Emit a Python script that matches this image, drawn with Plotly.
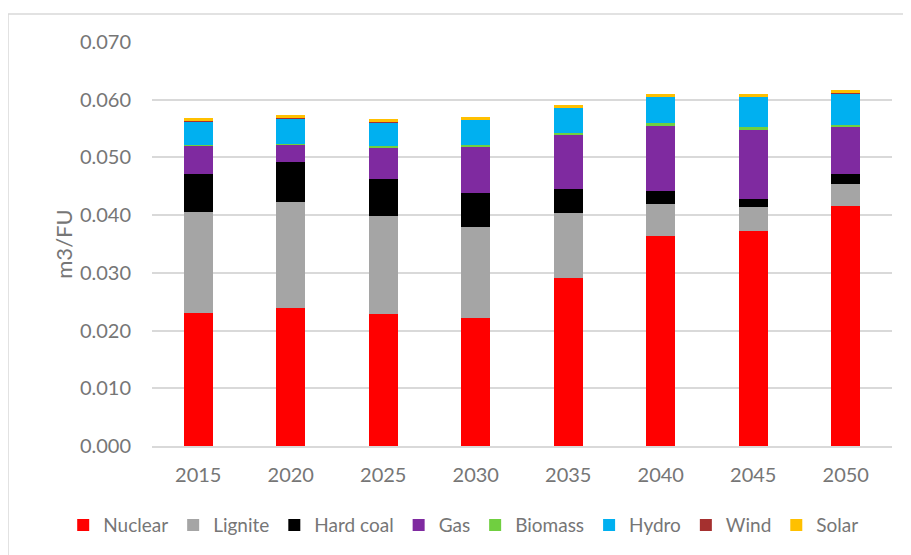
import plotly.graph_objects as go

years = ["2015", "2020", "2025", "2030", "2035", "2040", "2045", "2050"]

nuclear = [0.0231, 0.0239, 0.0228, 0.0222, 0.0291, 0.0364, 0.0373, 0.0415]
lignite = [0.0175, 0.0183, 0.0170, 0.0157, 0.0113, 0.0056, 0.0041, 0.0039]
hard_coal = [0.0065, 0.0070, 0.0064, 0.0060, 0.0042, 0.0022, 0.0014, 0.0018]
gas = [0.0049, 0.0030, 0.0055, 0.0080, 0.0093, 0.0114, 0.0120, 0.0081]
biomass = [0.0002, 0.0002, 0.0002, 0.0002, 0.0003, 0.0003, 0.0004, 0.0004]
hydro = [0.0041, 0.0044, 0.0042, 0.0044, 0.0044, 0.0046, 0.0053, 0.0054]
wind = [0.00002, 0.00002, 0.00002, 0.00002, 0.00002, 0.00002, 0.00002, 0.00002]
solar = [0.0005, 0.0005, 0.0005, 0.0005, 0.0005, 0.0005, 0.0005, 0.0005]

series = [
    ("Nuclear", nuclear, "#FF0000"),
    ("Lignite", lignite, "#A5A5A5"),
    ("Hard coal", hard_coal, "#000000"),
    ("Gas", gas, "#7F2AA0"),
    ("Biomass", biomass, "#70CF40"),
    ("Hydro", hydro, "#00B0F0"),
    ("Wind", wind, "#A5302F"),
    ("Solar", solar, "#FFC000"),
]

text_color = "#767676"
font = "Lato, 'Open Sans', sans-serif"

fig = go.Figure()
for name, values, color in series:
    fig.add_trace(go.Bar(x=years, y=values, name=name, marker=dict(color=color, line=dict(width=0))))

# page body adds an 8px offset, so the figure is 8px smaller than the window
fig.update_layout(
    barmode="stack",
    bargap=0.69,
    width=903,
    height=547,
    autosize=False,
    paper_bgcolor="white",
    plot_bgcolor="white",
    font=dict(family=font, size=20, color=text_color),
    margin=dict(l=144, r=19, t=34, b=109, autoexpand=False),
    xaxis=dict(
        showline=True, linecolor="#D9D9D9", linewidth=2,
        ticks="", ticklabelstandoff=10,
    ),
    yaxis=dict(
        range=[0, 0.07], dtick=0.01, tickformat=".3f",
        showgrid=True, gridcolor="#D9D9D9", gridwidth=1.5,
        zeroline=False, showline=False, ticks="", ticklabelstandoff=20,
        title=dict(text="m3/FU", standoff=1, font=dict(size=22, color=text_color)),
    ),
    legend=dict(
        orientation="h", x=-0.12, xanchor="left", y=-0.196, yanchor="middle",
        font=dict(size=19, color=text_color), itemwidth=30,
        traceorder="normal",
    ),
    shapes=[dict(
        type="rect", xref="paper", yref="paper",
        x0=-144 / 740, x1=1.05, y0=-0.35, y1=1 + 28 / 404,
        line=dict(color="#D9D9D9", width=1.5), fillcolor="rgba(0,0,0,0)", layer="below",
    )],
)

fig.write_html("out.html")
